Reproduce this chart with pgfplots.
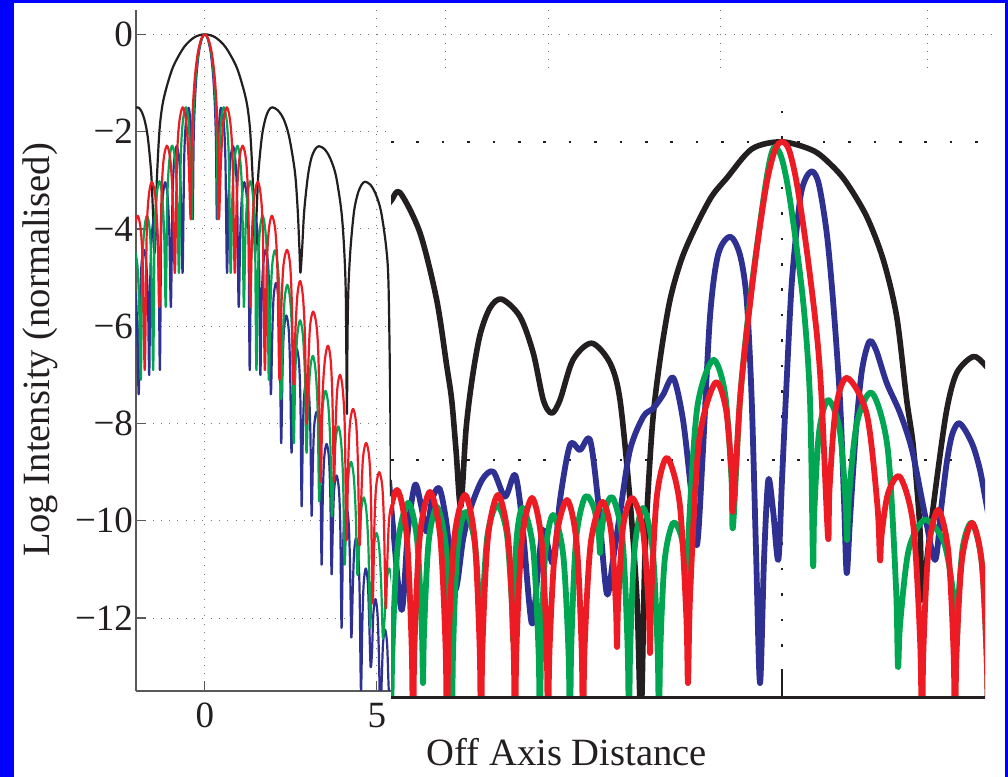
\documentclass[border=0pt]{standalone}
\usepackage{fontspec}
\setmainfont{Liberation Serif}
\usepackage{pgfplots}
\pgfplotsset{compat=1.18}
\definecolor{mblue}{RGB}{46,49,146}
\definecolor{mgreen}{RGB}{0,166,81}
\definecolor{mred}{RGB}{237,28,36}
\definecolor{mblack}{RGB}{35,31,32}
\definecolor{frameblue}{RGB}{0,0,255}
\begin{document}
\begin{tikzpicture}
\fill[frameblue] (0,0) rectangle (504pt,388.5pt);
\fill[white] (6.75pt,0) rectangle (502.5pt,386.85pt);
\begin{axis}[
  at={(68pt,43pt)}, anchor=south west,
  scale only axis, width=430pt, height=340.5pt,
  xmin=-2, xmax=23, ymin=-13.5, ymax=0.5,
  axis lines*=left, axis line style={-, black!65, line width=0.8pt},
  tick pos=left, tick align=inside, major tick length=5pt,
  tick style={black!65, line width=0.7pt},
  xtick={0,5,7,10,15,21}, xticklabels={0,5,,,,},
  ytick={-12,-10,-8,-6,-4,-2,0}, yticklabels={−12,−10,−8,−6,−4,−2,0},
  ticklabel style={font=\fontsize{18.5}{20}\selectfont, text=mblack},
  xticklabel style={yshift=-2.5pt},
  yticklabel style={xshift=2pt},
  grid=major, major grid style={black!55, line width=0.5pt, dash pattern=on 0.5pt off 3.65pt},
]
% black thin
\addplot[mblack, line width=1.1pt, smooth, tension=0.5, line join=round] coordinates {
(-2.12,-1.56) (-1.96,-1.5) (-1.86,-1.56) (-1.76,-1.74) (-1.66,-2.1) (-1.56,-2.83) (-1.51,-3.6) (-1.46,-4.5)
(-1.40,-3.1) (-1.32,-2.0) (-1.23,-1.45) (-1.1,-1.06) (-0.91,-0.65) (-0.6,-0.26) (-0.3,-0.06) (0,0) (0.3,-0.06) (0.6,-0.26) (0.91,-0.65) (1.1,-1.06) (1.23,-1.45) (1.32,-2.0) (1.40,-3.1) (1.46,-4.5)
(1.51,-3.6) (1.56,-2.83) (1.66,-2.1) (1.76,-1.74) (1.86,-1.56) (1.96,-1.5) (2.12,-1.56) (2.29,-1.74) (2.45,-2.1) (2.62,-2.83) (2.70,-3.6) (2.75,-4.4) (2.78,-4.9)
(2.83,-4.4) (2.89,-3.63) (3.00,-2.9) (3.10,-2.54) (3.21,-2.36) (3.32,-2.3) (3.48,-2.36) (3.64,-2.54) (3.81,-2.9) (3.97,-3.63) (4.05,-4.4) (4.10,-5.4) (4.13,-7.8)
(4.15,-6.1) (4.18,-5.13) (4.24,-4.36) (4.34,-3.63) (4.45,-3.27) (4.56,-3.09) (4.66,-3.03) (4.81,-3.09) (4.96,-3.27) (5.12,-3.63) (5.27,-4.36) (5.34,-5.13) (5.39,-7.5) (5.41,-9.5)
};
% blue thin
\addplot[mblue, line width=1.1pt, smooth, tension=0.5, line join=round] coordinates {
(-2.07,-5.11) (-2.00,-5.41) (-1.96,-6.21) (-1.92,-7.4)
(-1.88,-5.53) (-1.84,-4.73) (-1.77,-4.43) (-1.70,-4.73) (-1.65,-5.53) (-1.615,-7.0)
(-1.58,-4.84) (-1.53,-4.04) (-1.46,-3.74) (-1.39,-4.04) (-1.34,-4.84) (-1.305,-6.9)
(-1.27,-4.14) (-1.22,-3.34) (-1.15,-3.04) (-1.08,-3.34) (-1.03,-4.14) (-0.985,-5.6)
(-0.94,-3.40) (-0.89,-2.60) (-0.82,-2.30) (-0.74,-2.60) (-0.69,-3.40) (-0.645,-4.9)
(-0.60,-2.61) (-0.55,-1.81) (-0.47,-1.51) (-0.42,-1.81) (-0.38,-2.61) (-0.35,-3.8)
(-0.325,-2.22) (-0.29,-1.42) (-0.239,-0.82) (-0.171,-0.37) (-0.085,-0.09) (0,0) (0.085,-0.09) (0.171,-0.37) (0.239,-0.82) (0.29,-1.42) (0.325,-2.22) (0.35,-3.8)
(0.38,-2.61) (0.42,-1.81) (0.47,-1.51) (0.55,-1.81) (0.60,-2.61) (0.645,-4.9)
(0.69,-3.40) (0.74,-2.60) (0.82,-2.30) (0.89,-2.60) (0.94,-3.40) (0.985,-5.6)
(1.03,-4.14) (1.08,-3.34) (1.15,-3.04) (1.22,-3.34) (1.27,-4.14) (1.305,-6.9)
(1.34,-4.84) (1.39,-4.04) (1.46,-3.74) (1.53,-4.04) (1.58,-4.84) (1.615,-7.0)
(1.65,-5.53) (1.70,-4.73) (1.77,-4.43) (1.84,-4.73) (1.88,-5.53) (1.92,-7.4)
(1.96,-6.21) (2.00,-5.41) (2.07,-5.11) (2.14,-5.41) (2.18,-6.21) (2.22,-8.4)
(2.26,-6.88) (2.30,-6.08) (2.37,-5.78) (2.44,-6.08) (2.48,-6.88) (2.52,-8.6)
(2.56,-7.56) (2.60,-6.76) (2.67,-6.46) (2.74,-6.76) (2.78,-7.56) (2.815,-9.7)
(2.85,-8.21) (2.89,-7.41) (2.96,-7.11) (3.03,-7.41) (3.07,-8.21) (3.105,-9.9)
(3.14,-8.86) (3.18,-8.06) (3.25,-7.76) (3.32,-8.06) (3.36,-8.86) (3.395,-10.9)
(3.43,-9.52) (3.47,-8.72) (3.54,-8.42) (3.61,-8.72) (3.65,-9.52) (3.685,-11.1)
(3.72,-10.17) (3.76,-9.37) (3.83,-9.07) (3.90,-9.37) (3.94,-10.17) (3.975,-12.2)
(4.01,-10.82) (4.05,-10.02) (4.12,-9.72) (4.18,-10.02) (4.22,-10.82) (4.26,-12.4)
(4.30,-11.45) (4.34,-10.65) (4.40,-10.35) (4.46,-10.65) (4.50,-11.45) (4.54,-13.5)
(4.58,-12.08) (4.62,-11.28) (4.68,-10.98) (4.74,-11.28) (4.78,-12.08) (4.82,-13.0)
(4.86,-12.71) (4.90,-11.91) (4.96,-11.61) (5.02,-11.91) (5.06,-12.71) (5.10,-14.0)
(5.14,-13.34) (5.18,-12.54) (5.24,-12.24) (5.30,-12.54) (5.34,-13.34) (5.38,-14.0)
(5.42,-13.97) (5.46,-13.17) (5.52,-12.87) (5.58,-13.17) (5.62,-13.97) (5.66,-14.5)
};
% green thin
\addplot[mgreen, line width=1.1pt, smooth, tension=0.5, line join=round] coordinates {
(-2.04,-4.44) (-1.96,-4.74) (-1.91,-5.54) (-1.86,-7.1)
(-1.82,-4.83) (-1.76,-4.03) (-1.68,-3.73) (-1.60,-4.03) (-1.55,-4.83) (-1.50,-6.9)
(-1.46,-4.12) (-1.40,-3.32) (-1.32,-3.02) (-1.24,-3.32) (-1.18,-4.12) (-1.135,-5.6)
(-1.09,-3.39) (-1.03,-2.59) (-0.95,-2.29) (-0.86,-2.59) (-0.80,-3.39) (-0.75,-4.9)
(-0.70,-2.6) (-0.64,-1.8) (-0.55,-1.5) (-0.47,-1.8) (-0.42,-2.6) (-0.38,-3.8)
(-0.352,-2.22) (-0.315,-1.42) (-0.26,-0.82) (-0.185,-0.37) (-0.093,-0.09) (0,0) (0.093,-0.09) (0.185,-0.37) (0.26,-0.82) (0.315,-1.42) (0.352,-2.22) (0.38,-3.8)
(0.42,-2.6) (0.47,-1.8) (0.55,-1.5) (0.64,-1.8) (0.70,-2.6) (0.75,-4.9)
(0.80,-3.39) (0.86,-2.59) (0.95,-2.29) (1.03,-2.59) (1.09,-3.39) (1.135,-5.6)
(1.18,-4.12) (1.24,-3.32) (1.32,-3.02) (1.40,-3.32) (1.46,-4.12) (1.50,-6.9)
(1.55,-4.83) (1.60,-4.03) (1.68,-3.73) (1.76,-4.03) (1.82,-4.83) (1.86,-7.1)
(1.91,-5.54) (1.96,-4.74) (2.04,-4.44) (2.12,-4.74) (2.18,-5.54) (2.22,-7.5)
(2.27,-6.25) (2.32,-5.45) (2.40,-5.15) (2.48,-5.45) (2.54,-6.25) (2.585,-8.4)
(2.63,-6.98) (2.69,-6.18) (2.77,-5.88) (2.85,-6.18) (2.91,-6.98) (2.955,-8.6)
(3.00,-7.71) (3.06,-6.91) (3.14,-6.61) (3.22,-6.91) (3.28,-7.71) (3.325,-9.6)
(3.37,-8.43) (3.43,-7.63) (3.51,-7.33) (3.59,-7.63) (3.65,-8.43) (3.695,-9.9)
(3.74,-9.16) (3.80,-8.36) (3.88,-8.06) (3.96,-8.36) (4.02,-9.16) (4.065,-10.9)
(4.11,-9.89) (4.17,-9.09) (4.25,-8.79) (4.33,-9.09) (4.39,-9.89) (4.435,-11.1)
(4.48,-10.62) (4.54,-9.82) (4.62,-9.52) (4.70,-9.82) (4.76,-10.62) (4.805,-12.2)
(4.85,-11.35) (4.91,-10.55) (4.99,-10.25) (5.07,-10.55) (5.13,-11.35) (5.175,-12.4)
(5.22,-12.08) (5.28,-11.28) (5.36,-10.98) (5.44,-11.28) (5.50,-12.08) (5.545,-13.6)
};
% red thin
\addplot[mred, line width=1.1pt, smooth, tension=0.5, line join=round] coordinates {
(-2.39,-4.43) (-2.29,-4.73) (-2.23,-5.53) (-2.17,-7.1)
(-2.11,-4.83) (-2.05,-4.03) (-1.95,-3.73) (-1.86,-4.03) (-1.80,-4.83) (-1.745,-6.9)
(-1.69,-4.13) (-1.63,-3.33) (-1.54,-3.03) (-1.44,-3.33) (-1.37,-4.13) (-1.32,-5.6)
(-1.26,-3.39) (-1.20,-2.59) (-1.10,-2.29) (-1.00,-2.59) (-0.93,-3.39) (-0.87,-4.9)
(-0.81,-2.6) (-0.74,-1.8) (-0.64,-1.5) (-0.54,-1.8) (-0.47,-2.6) (-0.41,-3.8)
(-0.38,-2.22) (-0.34,-1.42) (-0.28,-0.82) (-0.2,-0.37) (-0.1,-0.09) (0,0) (0.1,-0.09) (0.2,-0.37) (0.28,-0.82) (0.34,-1.42) (0.38,-2.22) (0.41,-3.8)
(0.47,-2.6) (0.54,-1.8) (0.64,-1.5) (0.74,-1.8) (0.81,-2.6) (0.87,-4.9)
(0.93,-3.39) (1.00,-2.59) (1.10,-2.29) (1.20,-2.59) (1.26,-3.39) (1.32,-5.6)
(1.37,-4.13) (1.44,-3.33) (1.54,-3.03) (1.63,-3.33) (1.69,-4.13) (1.745,-6.9)
(1.80,-4.83) (1.86,-4.03) (1.95,-3.73) (2.05,-4.03) (2.11,-4.83) (2.17,-7.1)
(2.23,-5.53) (2.29,-4.73) (2.39,-4.43) (2.48,-4.73) (2.53,-5.53) (2.58,-7.2)
(2.63,-6.17) (2.69,-5.37) (2.77,-5.07) (2.85,-5.37) (2.91,-6.17) (2.96,-8.0)
(3.01,-6.8) (3.06,-6.0) (3.15,-5.7) (3.25,-6.0) (3.31,-6.8) (3.37,-9.2)
(3.42,-7.5) (3.49,-6.7) (3.58,-6.4) (3.66,-6.7) (3.71,-7.5) (3.755,-9.2)
(3.80,-8.1) (3.85,-7.3) (3.93,-7.0) (4.01,-7.3) (4.07,-8.1) (4.12,-10.4)
(4.17,-8.8) (4.22,-8.0) (4.31,-7.7) (4.40,-8.0) (4.45,-8.8) (4.50,-10.5)
(4.55,-9.5) (4.60,-8.7) (4.69,-8.4) (4.78,-8.7) (4.83,-9.5) (4.88,-11.7)
(4.93,-10.1) (4.98,-9.3) (5.07,-9.0) (5.16,-9.3) (5.21,-10.1) (5.26,-11.8)
(5.31,-10.75) (5.36,-9.95) (5.45,-9.65) (5.54,-9.95) (5.59,-10.75) (5.64,-13.0)
};
\end{axis}
% inset panel
\fill[white] (195.5pt,23pt) rectangle (500pt,351pt);
\begin{axis}[
  at={(195.5pt,39.75pt)}, anchor=south west,
  scale only axis, width=297pt, height=298.75pt,
  xmin=-3.91, xmax=2.03, ymin=-3.4937, ymax=0.2642,
  axis line style={draw=none},
  xtick={0}, ytick={-2,0}, xticklabels={}, yticklabels={},
  major tick length=0pt,
  grid=major, major grid style={mblack, line width=1.3pt, dash pattern=on 1.3pt off 11.4pt},
  clip mode=individual,
]
% black thick
\addplot[mblack, line width=2.8pt, smooth, tension=0.5, line join=round] coordinates {
(-4.00,-0.45) (-3.903,-0.365) (-3.82,-0.319) (-3.62,-0.572) (-3.453,-0.994) (-3.353,-1.407) (-3.303,-1.623) (-3.26,-1.937) (-3.213,-2.293) (-3.16,-1.811) (-3.10,-1.497) (-3.02,-1.214) (-2.92,-1.044) (-2.803,-0.989) (-2.62,-1.099) (-2.487,-1.329) (-2.387,-1.623) (-2.303,-1.706) (-2.22,-1.623) (-2.09,-1.371) (-1.903,-1.266) (-1.72,-1.390) (-1.62,-1.623) (-1.52,-2.252) (-1.45,-2.881) (-1.41,-3.635)
(-1.37,-2.60) (-1.30,-1.811) (-1.22,-1.371) (-1.12,-0.994) (-1.00,-0.730) (-0.85,-0.516) (-0.70,-0.340) (-0.55,-0.226) (-0.30,-0.044) (0,0) (0.313,-0.055) (0.50,-0.150) (0.647,-0.258) (0.847,-0.470) (1.013,-0.742) (1.147,-1.099) (1.247,-1.623) (1.313,-1.916) (1.38,-2.440) (1.40,-2.881) (1.463,-2.545) (1.547,-2.126) (1.647,-1.686) (1.747,-1.453) (1.913,-1.350) (2.03,-1.403) (2.10,-1.46)
};
% blue thick
\addplot[mblue, line width=2.9pt, smooth, tension=0.5, line join=round] coordinates {
(-3.93,-2.126) (-3.887,-2.440) (-3.803,-2.943) (-3.74,-2.440) (-3.67,-2.157) (-3.61,-2.283) (-3.553,-2.451) (-3.50,-2.252) (-3.427,-2.178) (-3.36,-2.377) (-3.27,-2.818) (-3.19,-2.503) (-3.12,-2.314) (-3.00,-2.126) (-2.887,-2.074) (-2.77,-2.231) (-2.67,-2.094) (-2.60,-2.377) (-2.503,-3.027) (-2.44,-2.692) (-2.387,-2.440) (-2.287,-2.650) (-2.22,-2.252) (-2.12,-1.906) (-2.02,-1.937) (-1.92,-1.874) (-1.84,-2.252) (-1.753,-2.838) (-1.69,-2.629) (-1.62,-2.335) (-1.52,-1.937) (-1.387,-1.728) (-1.287,-1.675) (-1.19,-1.591) (-1.087,-1.484) (-0.99,-1.748) (-0.91,-2.189) (-0.85,-2.535) (-0.79,-1.937) (-0.72,-1.099) (-0.64,-0.711) (-0.52,-0.596) (-0.42,-0.711) (-0.353,-0.994) (-0.303,-1.623) (-0.26,-2.566) (-0.22,-3.403) (-0.18,-2.629) (-0.137,-2.126) (-0.09,-2.314) (-0.037,-2.629) (0.0,-2.126) (0.047,-1.497) (0.10,-0.868) (0.18,-0.365) (0.24,-0.226) (0.307,-0.187) (0.37,-0.270) (0.447,-0.572) (0.51,-0.994) (0.58,-1.623) (0.62,-2.252) (0.647,-2.711) (0.68,-2.377) (0.74,-1.811) (0.80,-1.434) (0.873,-1.256) (0.94,-1.308) (1.047,-1.516) (1.18,-1.704) (1.30,-1.937) (1.42,-2.314) (1.53,-2.629) (1.59,-2.314) (1.647,-2.019) (1.70,-1.843) (1.763,-1.769) (1.83,-1.811) (1.913,-1.916) (1.98,-2.063) (2.03,-2.231) (2.08,-2.4)
};
% green thick
\addplot[mgreen, line width=2.9pt, smooth, tension=0.5, line join=round] coordinates {
(-3.91,-3.8) (-3.896,-3.201) (-3.842,-2.536) (-3.74,-2.270) (-3.65,-2.497) (-3.602,-3.063)
(-3.59,-3.403) (-3.579,-3.071) (-3.534,-2.517) (-3.45,-2.296) (-3.36,-2.557) (-3.312,-3.209)
(-3.30,-3.8) (-3.29,-3.218) (-3.248,-2.582) (-3.17,-2.327) (-3.074,-2.513) (-3.023,-2.979)
(-3.01,-3.258) (-2.997,-2.966) (-2.946,-2.478) (-2.85,-2.283) (-2.754,-2.453) (-2.703,-2.877)
(-2.69,-3.132) (-2.682,-2.883) (-2.65,-2.468) (-2.59,-2.302) (-2.488,-2.562) (-2.434,-3.211)
(-2.42,-3.8) (-2.41,-3.224) (-2.368,-2.597) (-2.29,-2.346) (-2.188,-2.597) (-2.134,-3.224)
(-2.12,-3.8) (-2.108,-3.190) (-2.06,-2.506) (-1.97,-2.233) (-1.88,-2.303) (-1.832,-2.479)
(-1.82,-2.585) (-1.81,-2.481) (-1.768,-2.308) (-1.69,-2.239) (-1.594,-2.511) (-1.543,-3.192)
(-1.53,-3.8) (-1.519,-3.211) (-1.474,-2.562) (-1.39,-2.302) (-1.294,-2.562) (-1.243,-3.211)
(-1.23,-3.8) (-1.219,-3.239) (-1.174,-2.637) (-1.09,-2.396) (-1.006,-2.484) (-0.961,-2.704)
(-0.95,-2.836) (-0.929,-2.397) (-0.846,-1.664) (-0.69,-1.371) (-0.57,-1.581) (-0.506,-2.106)
(-0.49,-2.421) (-0.42,-1.623) (-0.32,-0.994) (-0.187,-0.365) (-0.12,-0.11) (-0.07,-0.031) (0.0,-0.11) (0.08,-0.365) (0.21,-0.994) (0.28,-1.623)
(0.31,-2.648) (0.322,-2.341) (0.37,-1.828) (0.46,-1.623) (0.574,-1.799) (0.635,-2.239)
(0.65,-2.503) (0.67,-2.226) (0.75,-1.764) (0.90,-1.579) (1.056,-1.924) (1.139,-2.785)
(1.16,-3.302) (1.182,-3.025) (1.268,-2.562) (1.43,-2.377) (1.622,-2.524) (1.724,-2.892)
(1.75,-3.113) (1.762,-2.898) (1.81,-2.539) (1.90,-2.396) (1.996,-2.637) (2.047,-3.239)
(2.06,-3.8)
};
% red thick
\addplot[mred, line width=2.9pt, smooth, tension=0.5, line join=round] coordinates {
(-4.02,-3.8) (-4.006,-3.177) (-3.952,-2.471) (-3.85,-2.189) (-3.754,-2.471) (-3.703,-3.177)
(-3.69,-3.8) (-3.676,-3.180) (-3.622,-2.481) (-3.52,-2.201) (-3.418,-2.481) (-3.364,-3.180)
(-3.35,-3.8) (-3.336,-3.186) (-3.278,-2.496) (-3.17,-2.220) (-3.074,-2.496) (-3.023,-3.186)
(-3.01,-3.8) (-2.996,-3.186) (-2.942,-2.496) (-2.84,-2.220) (-2.738,-2.496) (-2.684,-3.186)
(-2.67,-3.8) (-2.656,-3.192) (-2.602,-2.511) (-2.50,-2.239) (-2.404,-2.511) (-2.353,-3.192)
(-2.34,-3.8) (-2.325,-3.196) (-2.264,-2.522) (-2.15,-2.252) (-2.054,-2.522) (-2.003,-3.196)
(-1.99,-3.8) (-1.975,-3.199) (-1.914,-2.531) (-1.80,-2.264) (-1.71,-2.446) (-1.662,-2.902)
(-1.65,-3.176) (-1.638,-2.895) (-1.59,-2.426) (-1.50,-2.239) (-1.392,-2.434) (-1.334,-2.922)
(-1.32,-3.214) (-1.306,-2.846) (-1.252,-2.232) (-1.15,-1.987) (-1.024,-2.270) (-0.957,-2.978)
(-0.94,-3.403) (-0.918,-2.837) (-0.832,-1.893) (-0.67,-1.516) (-0.562,-1.676) (-0.504,-2.075)
(-0.49,-2.314) (-0.42,-1.623) (-0.353,-1.201) (-0.253,-0.679) (-0.153,-0.258) (-0.07,-0.05) (0,0) (0.07,-0.05) (0.147,-0.258) (0.247,-0.679) (0.347,-1.201) (0.397,-1.623)
(0.46,-2.484) (0.475,-2.184) (0.536,-1.684) (0.65,-1.484) (0.848,-1.713) (0.954,-2.286)
(0.98,-2.629) (0.996,-2.472) (1.06,-2.211) (1.18,-2.107) (1.312,-2.406) (1.382,-3.152)
(1.40,-3.8) (1.413,-3.214) (1.464,-2.571) (1.56,-2.314) (1.662,-2.571) (1.716,-3.214)
(1.73,-3.8) (1.744,-3.239) (1.798,-2.637) (1.90,-2.396) (1.996,-2.637) (2.047,-3.239)
(2.06,-3.8)
};
\draw[mblack, line width=1.6pt] (rel axis cs:0,0) -- (rel axis cs:1,0);
\draw[mblack, line width=1.2pt] (axis cs:0,-3.4937) -- ++(0pt,13.5pt);
\end{axis}
\node[rotate=90, font=\fontsize{19.3}{22}\selectfont, text=mblack] at (20pt,213.5pt) {Log Intensity (normalised)};
\node[font=\fontsize{19.3}{22}\selectfont, text=mblack] at (283.5pt,12.5pt) {Off Axis Distance};
\pgfresetboundingbox
\useasboundingbox (0,0) rectangle (504pt,388.5pt);
\end{tikzpicture}
\end{document}
